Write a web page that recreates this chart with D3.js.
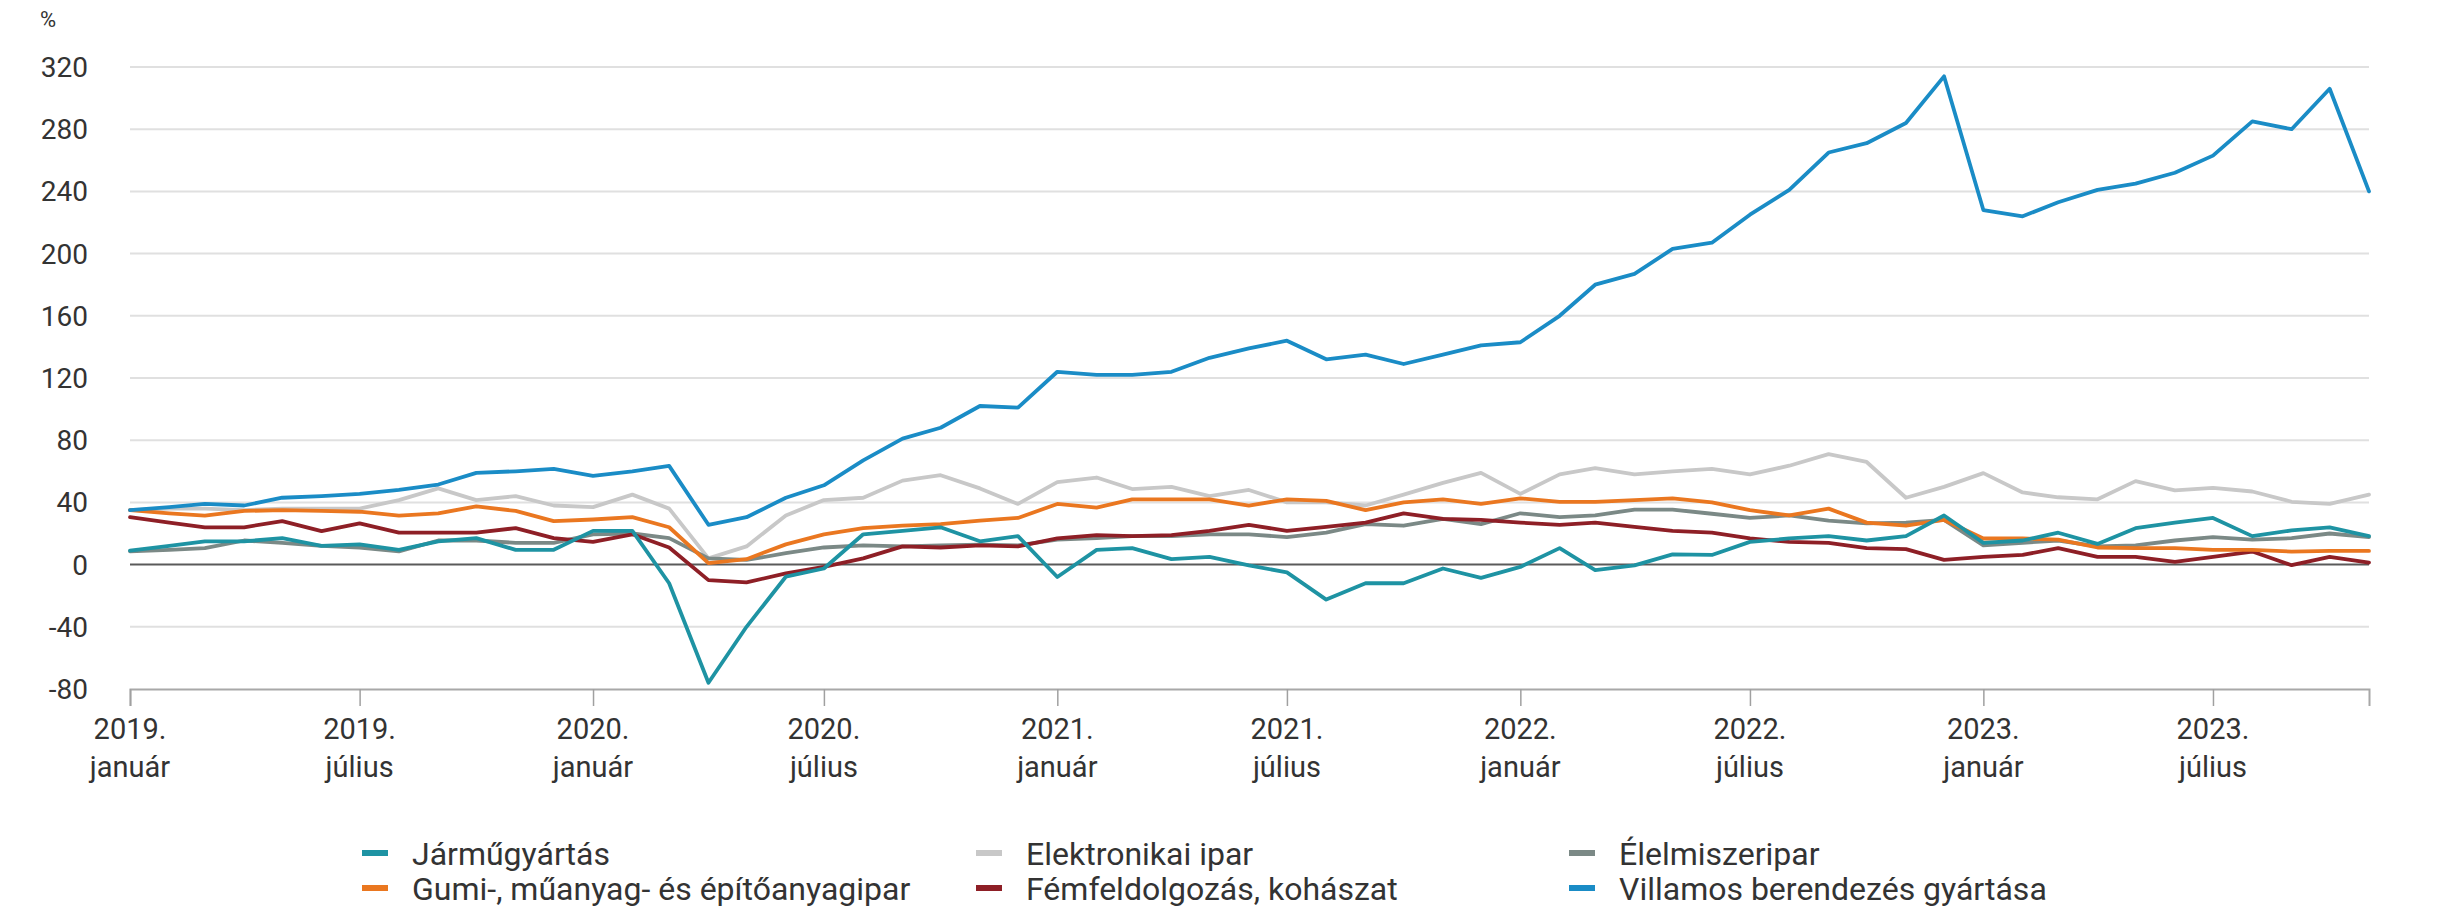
<!DOCTYPE html>
<html><head><meta charset="utf-8">
<script src="https://cdn.jsdelivr.net/npm/d3@7"></script>
<style>body{margin:0;background:#fff}text{font-family:Roboto,"Noto Sans",sans-serif;fill:#333}</style>
</head><body><svg id="c" width="2463" height="910"></svg>
<script>
// Months: 2019 January .. 2023 November
const months = d3.timeMonth.range(new Date(2019,0,1), new Date(2023,11,1));

const seriesNames = ["Járműgyártás","Elektronikai ipar","Élelmiszeripar",
  "Gumi-, műanyag- és építőanyagipar","Fémfeldolgozás, kohászat","Villamos berendezés gyártása"];

const jarmu = [9,12,15,15,17,12,13,9.5,15,17,9.5,9.5,
  21.7,21.7,-12,-76,-40,-7.8,-2.5,19.5,21.7,24,15,18.3,
  -8,9.5,10.6,3.5,5,-0.5,-5,-22.5,-12,-12,-2.5,-8.5,
  -1.5,10.6,-3.6,-0.5,6.6,6.2,14.6,16.8,18.3,15.5,18.3,31.6,
  14,15.5,20.5,13.3,23.4,27,30,18.3,22,24,18.3];
const elektronikai = [35,36,36,35,36,36,36,41.5,49,41.5,44,38,
  37,45,36,4,11.7,31.6,41.5,43,54,57.5,49,39,
  53,56,48.6,50,44,48,40,40,38,45,52.6,59,
  45.5,58,62,58,60,61.5,58,63.6,71,66,43,50,
  58.8,46.4,43.3,42,53.7,47.7,49.3,47,40.4,39,45];
const elelmiszer = [8.5,9.5,10.6,15.5,14,12,11,8.5,15.5,15.5,14,14,
  19.5,20,17,4,3,7.3,11,12.4,11.7,12.4,12.8,12.4,
  16,17,18.3,18.3,19.5,19.5,17.7,20.5,26,25,29.4,26,
  33,30.5,31.6,35.4,35.4,32.7,30,31.6,28.3,26.5,27,28.7,
  12.4,14,15.5,11.7,12.4,15.5,17.7,16,17,20,17.7];
const gumi = [35,33,31.5,34.5,35,34.5,34,31.5,33,37.5,34.5,28,
  29,30.5,24,1,3.5,13,19.4,23.4,25,26,28.3,30,
  39,36.7,42,42,42,38,42,41,35,40,42,39,
  42.6,40.4,40.4,41.5,42.6,40,35,31.6,36,27,25,28.7,
  16.8,16.8,16,11,10.6,10.6,9.5,9.5,8.4,8.8,8.8];
const fem = [30.5,27,24,24,28,21.5,26.5,20.5,20.5,20.5,23.5,17,
  14.6,19.5,11,-10,-11.4,-5.7,-1.5,4,11.7,11,12.4,11.7,
  16.8,19,18.3,19,21.7,25.6,21.7,24.3,27,33,29.4,28.7,
  27,25.6,27,24.3,21.7,20.5,16.8,14.6,14,10.6,10,3,
  5,6.2,10.6,5,5,1.8,5,8.4,-0.4,5,1.3];
const villamos = [35,37,39,38,43,44,45.5,48,51.5,59,60,61.5,
  57,60,63.5,25.6,30.5,43,51,67,81,88,102,101,
  124,122,122,124,133,139,144,132,135,129,135,141,
  143,160,180,187,203,207,225,241,265,271,284,314,
  228,224,233,241,245,252,263,285,280,306,240];

const colors = ["#1e93a3","#c8c8c8","#7b8986","#ea7720","#8e1f26","#1a8cc6"];
const seriesValues = [jarmu, elektronikai, elelmiszer, gumi, fem, villamos];
const drawOrder = [1,2,4,3,0,5];

const yTicks = [-80,-40,0,40,80,120,160,200,240,280,320];
const xTickDates = [new Date(2019,0,1),new Date(2019,6,1),new Date(2020,0,1),new Date(2020,6,1),
  new Date(2021,0,1),new Date(2021,6,1),new Date(2022,0,1),new Date(2022,6,1),new Date(2023,0,1),new Date(2023,6,1)];
const xTickLabels = [["2019.","január"],["2019.","július"],["2020.","január"],["2020.","július"],
  ["2021.","január"],["2021.","július"],["2022.","január"],["2022.","július"],["2023.","január"],["2023.","július"]];

const svg = d3.select("#c");
const x = d3.scaleTime().domain([months[0], months[months.length-1]]).range([130, 2369]);
const y = d3.scaleLinear().domain([-80, 320]).range([689, 67]);

// gridlines
svg.append("g").selectAll("line").data(yTicks.filter(v => v > -80)).join("line")
  .attr("x1", x.range()[0]).attr("x2", x.range()[1])
  .attr("y1", d => y(d)).attr("y2", d => y(d))
  .attr("stroke", d => d === 0 ? "#5a5a5a" : "#e0e0e0")
  .attr("stroke-width", 2);

// y labels
svg.append("g").selectAll("text").data(yTicks).join("text")
  .attr("x", 88).attr("y", d => y(d)).attr("dy", "0.36em")
  .attr("text-anchor", "end").attr("font-size", 28).text(d => d);
svg.append("text").attr("x", 40).attr("y", 27).attr("font-size", 22).text("%");

// x axis
const xAxis = d3.axisBottom(x).tickValues(xTickDates).tickSize(17).tickFormat("");
const gx = svg.append("g").attr("transform", `translate(0,${y(-80)})`).call(xAxis);
gx.select(".domain").attr("stroke", "#a8a8a8").attr("stroke-width", 2);
gx.selectAll(".tick line").attr("stroke", "#a0a0a0").attr("stroke-width", 1.5);
const lbl = svg.append("g").selectAll("text").data(xTickDates).join("text")
  .attr("text-anchor", "middle").attr("font-size", 29);
lbl.append("tspan").attr("x", d => x(d)).attr("y", 739).text((d,i) => xTickLabels[i][0]);
lbl.append("tspan").attr("x", d => x(d)).attr("y", 777).text((d,i) => xTickLabels[i][1]);

// lines
const line = d3.line().x((d,i) => x(months[i])).y(d => y(d));
svg.append("g").selectAll("path").data(drawOrder).join("path")
  .attr("d", k => line(seriesValues[k]))
  .attr("fill", "none").attr("stroke", k => colors[k])
  .attr("stroke-width", 3.8).attr("stroke-linejoin", "round").attr("stroke-linecap", "round");

// legend
const legX = [412, 1026, 1619];
const legY = [853, 888];
const leg = svg.append("g").selectAll("g").data(seriesNames).join("g")
  .attr("transform", (d,i) => `translate(${legX[i%3]},${legY[Math.floor(i/3)]})`);
leg.append("rect").attr("x", -50).attr("y", -3).attr("width", 26).attr("height", 6)
  .attr("fill", (d,i) => colors[i]);
leg.append("text").attr("x", 0).attr("dy", "0.36em").attr("font-size", 32).text(d => d);
</script></body></html>
